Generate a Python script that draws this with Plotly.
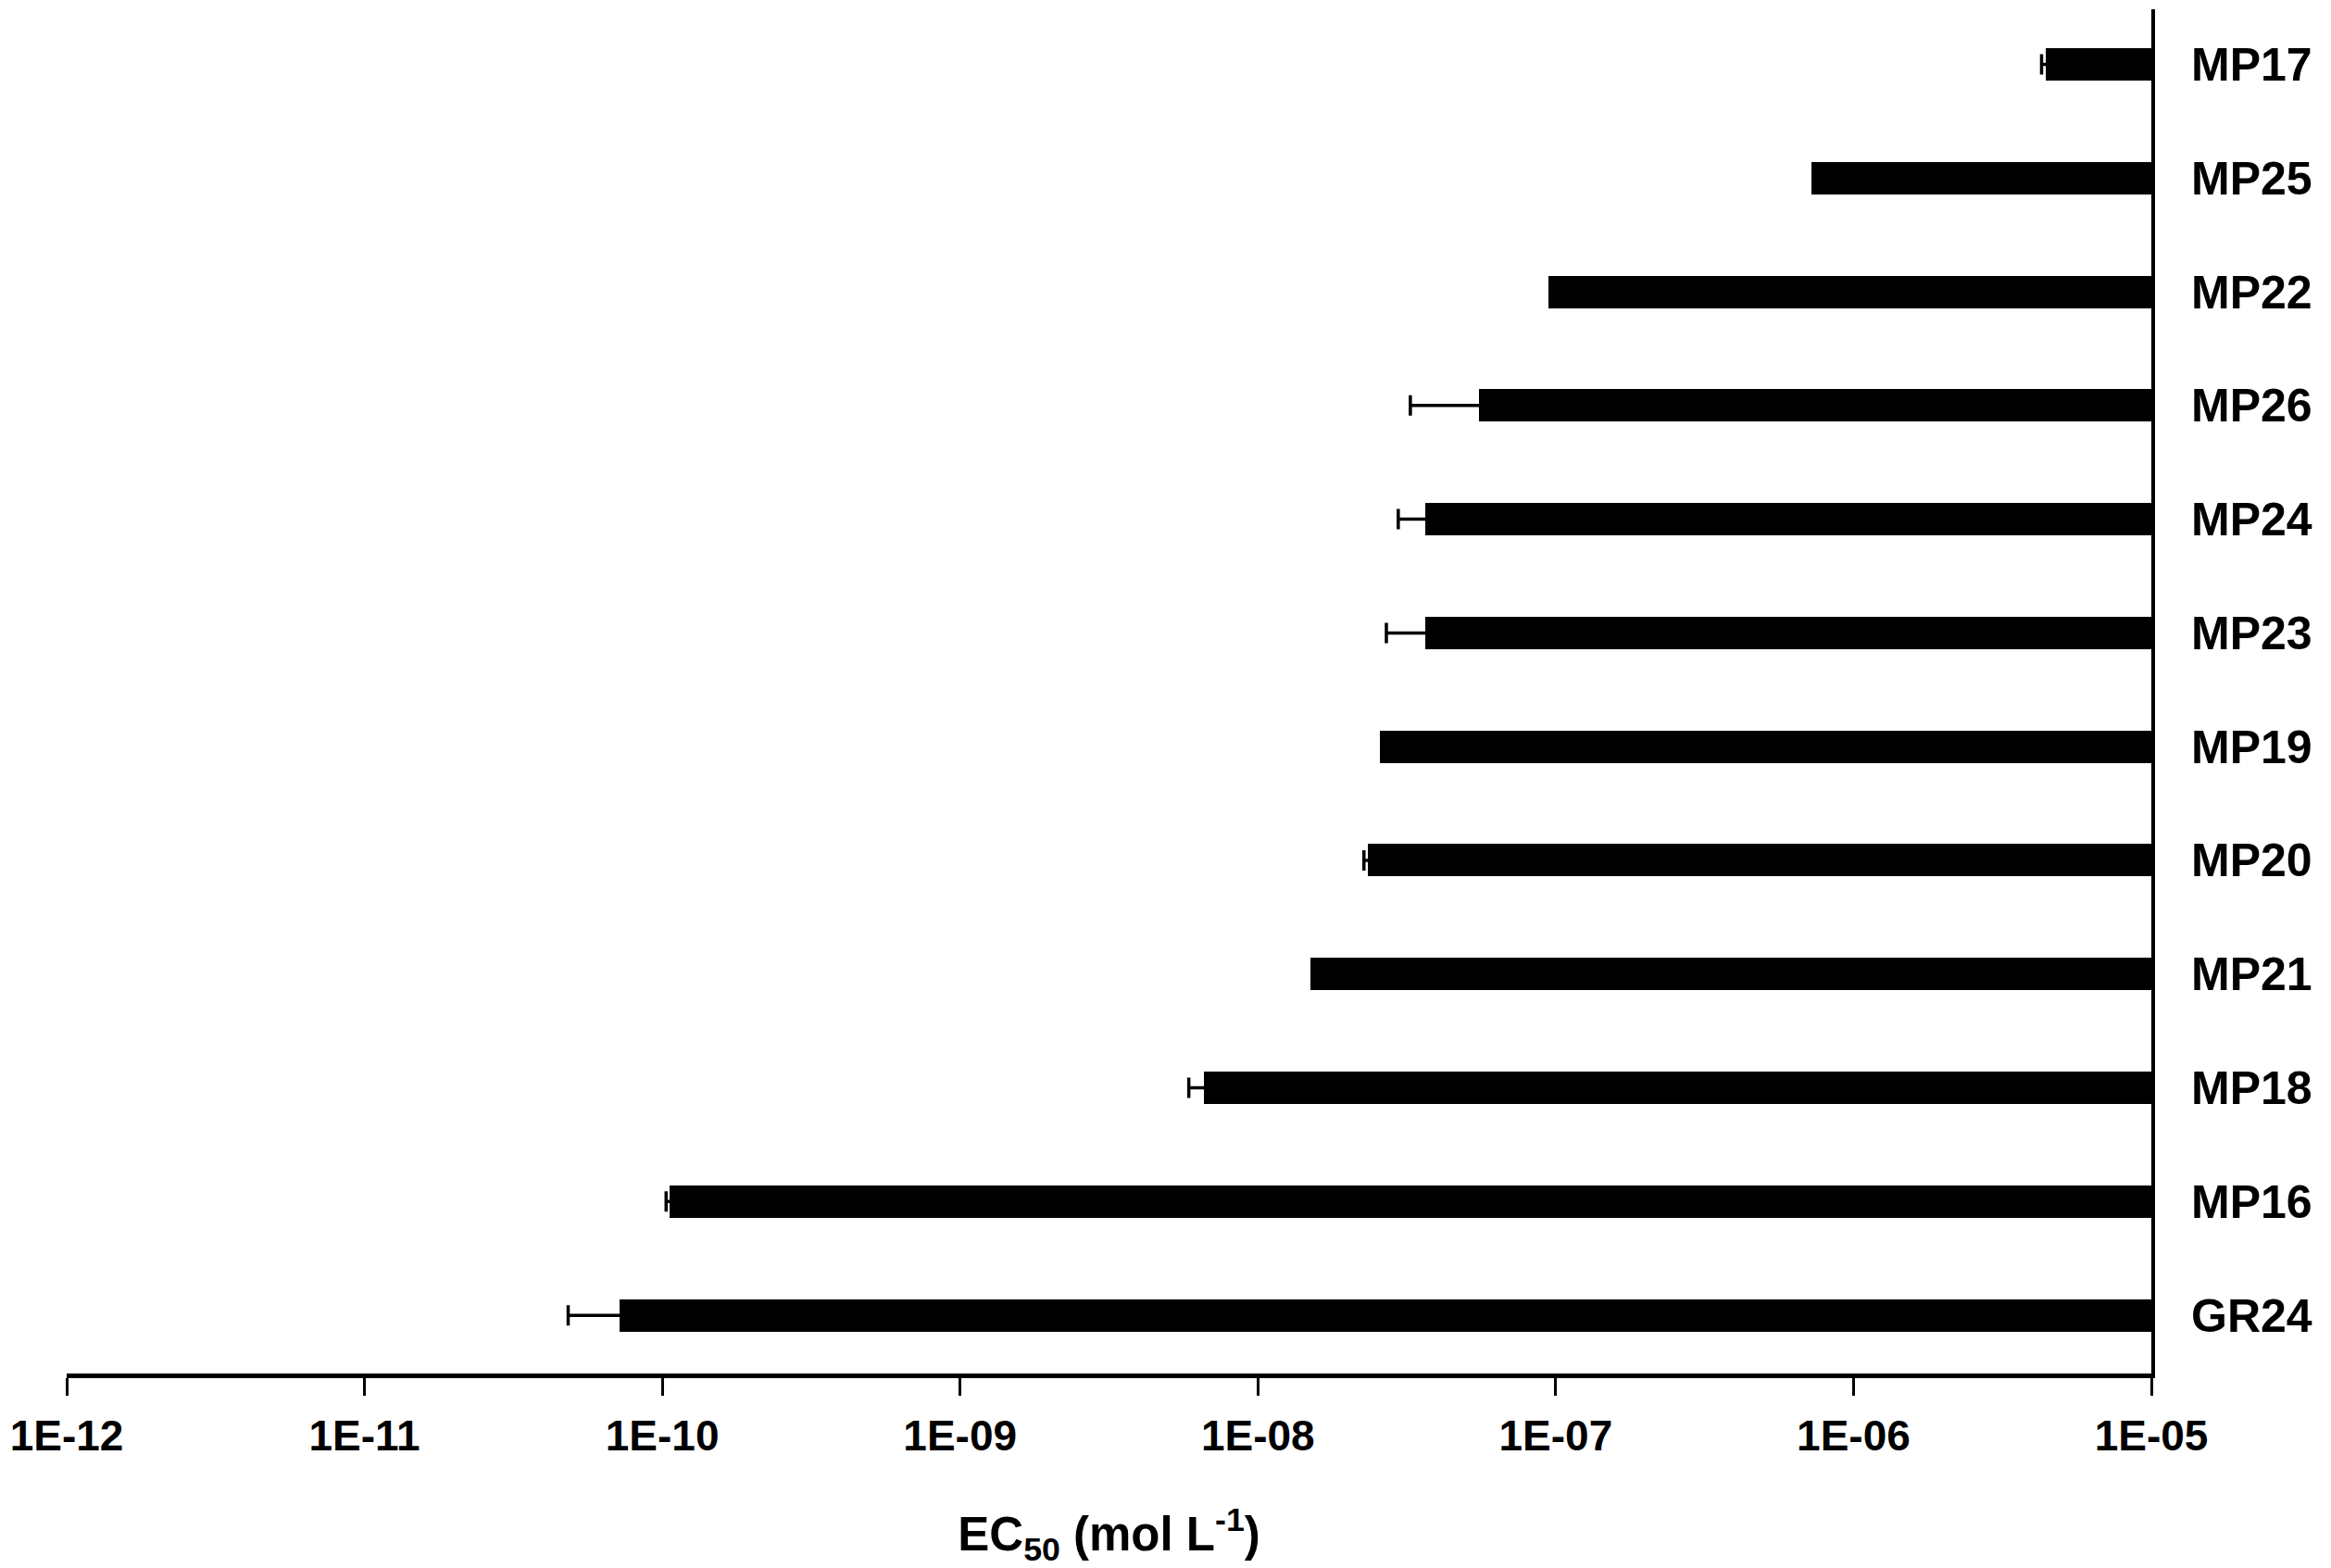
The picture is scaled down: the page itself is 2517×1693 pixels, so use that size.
import plotly.graph_objects as go

# EC50 values, bottom to top
compounds = ["GR24", "MP16", "MP18", "MP21", "MP20", "MP19",
             "MP23", "MP24", "MP26", "MP22", "MP25", "MP17"]
ec50 = [7.19e-11, 1.055e-10, 6.58e-9, 1.50e-8, 2.34e-8, 2.56e-8,
        3.65e-8, 3.65e-8, 5.52e-8, 9.46e-8, 7.21e-7, 4.42e-6]
sd = [2.36e-11, 2.5e-12, 7.2e-10, 0, 7.0e-10, 0,
      9.5e-9, 6.9e-9, 2.27e-8, 0, 0, 1.4e-7]

x_top = 1e-5
tick_vals = [1e-12, 1e-11, 1e-10, 1e-9, 1e-8, 1e-7, 1e-6, 1e-5]
tick_text = ["1E-12", "1E-11", "1E-10", "1E-09", "1E-08", "1E-07", "1E-06", "1E-05"]

font_family = "Arial, Liberation Sans, sans-serif"

fig = go.Figure()

# bars hang from the right axis (1E-05) down to the EC50 value
fig.add_trace(go.Bar(
    y=compounds,
    x=[x_top - v for v in ec50],
    base=ec50,
    orientation="h",
    width=0.285,
    marker=dict(color="black", line=dict(width=0)),
    showlegend=False,
    hoverinfo="skip",
))

# error bars only where there is one
err_y = [c for c, s in zip(compounds, sd) if s > 0]
err_x = [v for v, s in zip(ec50, sd) if s > 0]
err_s = [s for s in sd if s > 0]
fig.add_trace(go.Scatter(
    y=err_y,
    x=err_x,
    mode="markers",
    marker=dict(size=1, opacity=0),
    error_x=dict(type="data", array=err_s, symmetric=True,
                 color="black", thickness=3.5, width=11),
    showlegend=False,
    hoverinfo="skip",
))

fig.update_layout(
    width=2517,
    height=1693,
    paper_bgcolor="white",
    plot_bgcolor="white",
    margin=dict(l=72, r=194, t=10, b=203),
    font=dict(family=font_family, color="black"),
    bargap=0,
)

fig.update_xaxes(
    type="log",
    range=[-12, -5],
    tickvals=tick_vals,
    ticktext=tick_text,
    ticks="outside",
    ticklen=19,
    tickwidth=3,
    tickcolor="black",
    tickfont=dict(size=46, weight="bold"),
    ticklabelstandoff=4,
    showline=True,
    linewidth=5,
    linecolor="black",
    showgrid=False,
    zeroline=False,
    title=dict(text="EC<sub>50</sub> (mol L<sup>-1</sup>)",
               font=dict(size=51, weight="bold"), standoff=71),
)

fig.update_yaxes(
    type="category",
    categoryorder="array",
    categoryarray=compounds,
    range=[-0.512, 11.484],
    side="right",
    ticks="",
    tickfont=dict(size=50, weight="bold"),
    ticklabelstandoff=29,
    showline=True,
    linewidth=4,
    linecolor="black",
    showgrid=False,
    zeroline=False,
)

# page body margin would push the figure off the window edge
fig.write_html("out.html", config={"displayModeBar": False},
               post_script="document.body.style.margin='0';")
